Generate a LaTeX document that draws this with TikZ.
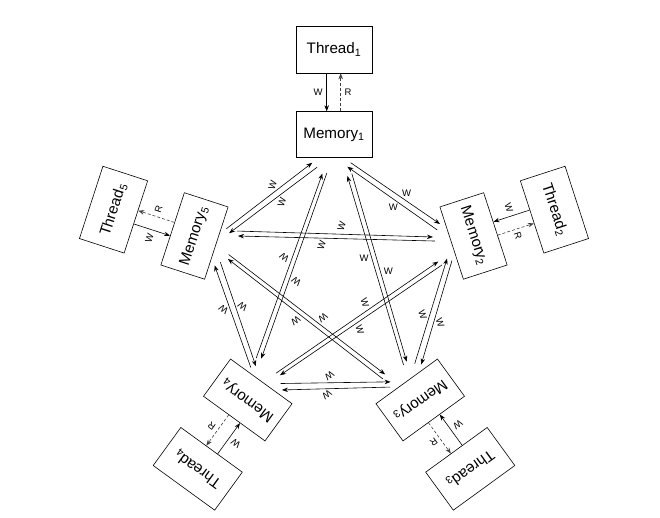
\documentclass[tikz,border=0pt]{standalone}
\usepackage{fontspec}
\setmainfont{Liberation Sans}
\usetikzlibrary{arrows.meta,calc}
\begin{document}
\begin{tikzpicture}[x=1pt,y=1pt,
  box/.style={draw, line width=0.6pt, minimum width=76pt, minimum height=46pt, inner sep=0pt,
    font=\fontsize{15.2}{18}\selectfont},
  lbl/.style={font=\fontsize{9.5}{11}\selectfont, inner sep=0pt},
  arr/.style={line width=0.6pt, -{Stealth[length=6pt,width=4.5pt]}},
  rarr/.style={arr, black!75, dash pattern=on 3pt off 2pt}]
\useasboundingbox (-334,-236.7) rectangle (326,281.3);
\foreach \k in {1,...,5}{
  \begin{scope}[rotate={-72*(\k-1)}, transform shape]
    \node[box, minimum height=47pt] (t\k) at (0,231.8) {Thread\textsubscript{\k}};
    \node[box] (m\k) at (0,146.7) {Memory\textsubscript{\k}};
    % thread <-> memory
    \draw[arr] ($(t\k.south)!7.3pt!(t\k.south west)$) -- ($(m\k.north)!7.3pt!(m\k.north west)$);
    \draw[rarr] ($(m\k.north)!6.7pt!(m\k.north east)$) -- ($(t\k.south)!6.7pt!(t\k.south east)$);
    \node[lbl] (tw\k) at (-16,189) {W};
    \node[lbl] (tr\k) at (14,189) {R};
    % side to next memory
    \coordinate (sa\k) at (16.7,118.6);
    \coordinate (sb\k) at (106,57.3);
    \coordinate (sc\k) at (103.3,51.3);
    \coordinate (sd\k) at (13.3,114.6);
    \draw[arr] (sa\k) -- (sb\k);
    \draw[arr] (sc\k) -- (sd\k);
    \node[lbl] (swo\k) at (72.7,88) {W};
    \node[lbl] (swi\k) at (59.3,74) {W};
    % diagonal to memory after next
    \coordinate (da\k) at (17.8,107.8);
    \coordinate (db\k) at (72.7,-80.4);
    \coordinate (dc\k) at (69.5,-83.6);
    \coordinate (dd\k) at (13.4,105.3);
    \draw[arr] (da\k) -- (db\k);
    \draw[arr] (dc\k) -- (dd\k);
    \node[lbl] (dwo\k) at (54.3,9.6) {W};
    \node[lbl] (dwi\k) at (30.1,22.7) {W};
  \end{scope}
}
\end{tikzpicture}
\end{document}
